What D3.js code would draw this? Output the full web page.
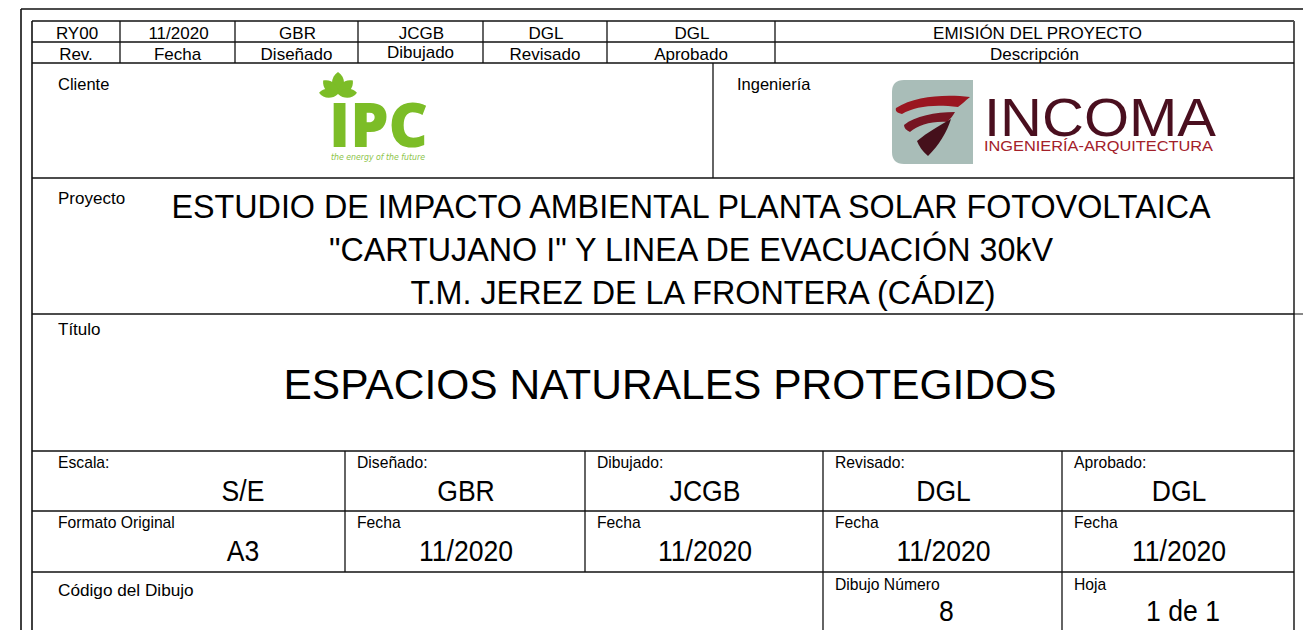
<!DOCTYPE html>
<html><head><meta charset="utf-8">
<script src="https://cdn.jsdelivr.net/npm/d3@7"></script>
<style>
body{margin:0;background:#fff}
svg{display:block}
text{font-family:"Liberation Sans",Arial,Helvetica,sans-serif;fill:#000}
</style>
</head><body>
<svg id="c" width="1303" height="630"></svg>
<script>
// ---------- DATA ----------
const revValues = ["RY00", "11/2020", "GBR", "JCGB", "DGL", "DGL", "EMISIÓN DEL PROYECTO"];
const revLabels = ["Rev.", "Fecha", "Diseñado", "Dibujado", "Revisado", "Aprobado", "Descripción"];
const clientLabel = "Cliente";
const engLabel = "Ingeniería";
const clientName = "IPC";
const clientSlogan = "the energy of the future";
const engName = "INCOMA";
const engSub = "INGENIERÍA-ARQUITECTURA";
const projectLabel = "Proyecto";
const projectLines = [
  "ESTUDIO DE IMPACTO AMBIENTAL PLANTA SOLAR FOTOVOLTAICA",
  "\"CARTUJANO I\" Y LINEA DE EVACUACIÓN 30kV",
  "T.M. JEREZ DE LA FRONTERA (CÁDIZ)"
];
const titleLabel = "Título";
const titleText = "ESPACIOS NATURALES PROTEGIDOS";
const row1Labels = ["Escala:", "Diseñado:", "Dibujado:", "Revisado:", "Aprobado:"];
const row1Values = ["S/E", "GBR", "JCGB", "DGL", "DGL"];
const row2Labels = ["Formato Original", "Fecha", "Fecha", "Fecha", "Fecha"];
const row2Values = ["A3", "11/2020", "11/2020", "11/2020", "11/2020"];
const row3Labels = ["Código del Dibujo", "Dibujo Número", "Hoja"];
const row3Values = ["", "8", "1 de 1"];

// ---------- LAYOUT ----------
const L = {
  outerX: 21, outerY: 9, left: 32, right: 1294, top: 21,
  revCols: [32, 120, 235, 358, 483, 607, 775, 1294],
  revRows: [21, 42, 63],
  clientBottom: 178, clientDiv: 713,
  projBottom: 314, titleBottom: 451,
  botRows: [451, 511, 572, 630],
  botCols: [32, 345, 585, 823, 1062, 1294]
};
const svg = d3.select("#c");
const ink = "#111";

// scales
const revX = d3.scaleOrdinal().domain(d3.range(L.revCols.length)).range(L.revCols);
const botX = d3.scaleOrdinal().domain(d3.range(L.botCols.length)).range(L.botCols);

const g = svg.append("g");
function line(x1, y1, x2, y2, w, c) {
  g.append("line").attr("x1", x1).attr("y1", y1).attr("x2", x2).attr("y2", y2)
    .attr("stroke", c || ink).attr("stroke-width", w || 1.3);
}
// outer frame
line(L.outerX, L.outerY, 1303, L.outerY, 1.6);
line(L.outerX, L.outerY, L.outerX, 630, 1.6);
// inner frame
line(L.left, L.top, L.right, L.top, 1.6);
line(L.left, L.top, L.left, 630, 1.6);
line(L.right, L.top, L.right, 630, 2, "#555");

// revision table
L.revRows.slice(1).forEach(y => line(L.left, y, L.right, y, 1.3));
d3.range(1, L.revCols.length - 1).forEach(i => line(revX(i), L.revRows[0], revX(i), L.revRows[2], 1.3));
const revCenters = d3.range(revValues.length).map(i => (revX(i) + revX(i + 1)) / 2);
g.selectAll("text.rv").data(revValues).join("text").attr("class", "rv")
  .attr("x", (d, i) => revCenters[i] + (i === 6 ? 3 : 1)).attr("y", 38.5).attr("text-anchor", "middle")
  .attr("font-size", 17).text(d => d);
g.selectAll("text.rl").data(revLabels).join("text").attr("class", "rl")
  .attr("x", (d, i) => revCenters[i]).attr("y", (d, i) => i === 3 ? 57.5 : 59.5).attr("text-anchor", "middle")
  .attr("font-size", 17).text(d => d);

// client / engineering
line(L.left, L.clientBottom, L.right, L.clientBottom, 1.5);
line(L.clientDiv, L.revRows[2], L.clientDiv, L.clientBottom, 1.3);
g.append("text").attr("x", 58).attr("y", 90).attr("font-size", 16.5).text(clientLabel);
g.append("text").attr("x", 737).attr("y", 90).attr("font-size", 16.5).text(engLabel);

// IPC logo
const green = "#7cbd27";
const ipc = g.append("g");
const leafC = [338, 94];
const leaves = [
  {a: -90, l: 22, w: 8},
  {a: -138, l: 20, w: 7},
  {a: -42, l: 20, w: 7},
  {a: -176, l: 19, w: 6},
  {a: -4, l: 19, w: 6}
];
leaves.forEach(lf => {
  const l = lf.l, w = lf.w;
  ipc.append("path")
    .attr("d", `M0,0 C${l*0.3},${-w} ${l*0.75},${-w} ${l},0 C${l*0.75},${w} ${l*0.3},${w} 0,0 Z`)
    .attr("transform", `translate(${leafC[0]},${leafC[1]}) rotate(${lf.a})`)
    .attr("fill", green);
});
const ipcText = ipc.append("text").style("font-family", "'Open Sans','Liberation Sans',Arial,sans-serif");
ipcText.append("tspan").attr("x", 329).attr("y", 147).attr("font-size", 62)
  .attr("font-weight", 800).attr("textLength", 99).attr("lengthAdjust", "spacingAndGlyphs")
  .style("fill", green).text(clientName);
ipcText.append("tspan").attr("x", 331).attr("y", 160).attr("font-size", 9)
  .attr("textLength", 94).attr("lengthAdjust", "spacingAndGlyphs")
  .style("font-family", "'DejaVu Sans',sans-serif").style("font-style", "italic")
  .style("fill", "#8cc44a").text(clientSlogan);

// INCOMA logo
const inc = g.append("g");
inc.append("path").attr("d", "M904,80 H973 V164 H904 Q892,164 892,152 V92 Q892,80 904,80 Z").attr("fill", "#a9bdb8");
inc.append("path").attr("d", "M896,108 C915,96 945,94 970,97 C965,101 962,104 958,107 C935,104 915,106 902,114 C897,113 895,111 896,108 Z").attr("fill", "#9a1620");
inc.append("path").attr("d", "M904,125 C915,116 935,112 955,112 C953,116 950,119 947,122 C932,121 918,125 910,132 C906,130 904,128 904,125 Z").attr("fill", "#761522");
inc.append("path").attr("d", "M917,141 C928,132 940,125 951,119 C947,132 939,145 928,156 C922,151 919,146 917,141 Z").attr("fill", "#45101b");
const incText = inc.append("text");
incText.append("tspan").attr("x", 984).attr("y", 136).attr("font-size", 54)
  .attr("textLength", 232).attr("lengthAdjust", "spacingAndGlyphs")
  .style("font-family", "'Liberation Sans Narrow','Liberation Sans',sans-serif").style("font-weight", 400)
  .style("fill", "#4a0f1f").text(engName);
incText.append("tspan").attr("x", 984).attr("y", 151).attr("font-size", 14.5)
  .attr("textLength", 229).attr("lengthAdjust", "spacingAndGlyphs")
  .style("font-family", "'Liberation Sans Narrow','Liberation Sans',sans-serif")
  .style("fill", "#a3202a").text(engSub);

// project
line(L.left, L.projBottom, L.right, L.projBottom, 1.5);
line(L.right, L.projBottom, 1303, L.projBottom, 1);
g.append("text").attr("x", 58).attr("y", 204).attr("font-size", 17).text(projectLabel);
g.selectAll("text.pl").data(projectLines).join("text").attr("class", "pl")
  .attr("x", (d, i) => i === 2 ? 703 : 691).attr("y", (d, i) => 218 + i * 43)
  .attr("text-anchor", "middle").attr("font-size", 32.3).text(d => d);

// title
line(L.left, L.titleBottom, L.right, L.titleBottom, 1.5);
g.append("text").attr("x", 58).attr("y", 335).attr("font-size", 17).text(titleLabel);
g.append("text").attr("x", 670).attr("y", 399).attr("text-anchor", "middle")
  .attr("font-size", 42.5).text(titleText);

// bottom rows
L.botRows.slice(1, 3).forEach(y => line(L.left, y, L.right, y, 1.5));
d3.range(1, L.botCols.length - 1).forEach(i => line(botX(i), L.botRows[0], botX(i), L.botRows[2], 1.3));
[3, 4].forEach(i => line(botX(i), L.botRows[2], botX(i), 630, 1.3));

function valueText(x, y, txt) {
  g.append("text").attr("transform", `translate(${x},${y}) scale(0.9,1)`)
    .attr("text-anchor", "middle").attr("font-size", 29.5).text(txt);
}
const botCenters = d3.range(5).map(i => (botX(i) + botX(i + 1)) / 2);
const valX = (i) => i === 0 ? 243 : botCenters[i] + 1;
row1Labels.forEach((d, i) => g.append("text").attr("x", botX(i) + (i === 0 ? 26 : 12)).attr("y", 468).attr("font-size", 15.7).text(d));
row1Values.forEach((d, i) => valueText(valX(i), 501, d));
row2Labels.forEach((d, i) => g.append("text").attr("x", botX(i) + (i === 0 ? 26 : 12)).attr("y", 528).attr("font-size", 15.7).text(d));
row2Values.forEach((d, i) => valueText(valX(i), 561, d));
g.append("text").attr("x", 58).attr("y", 596).attr("font-size", 17.2).text(row3Labels[0]);
g.append("text").attr("x", botX(3) + 12).attr("y", 590).attr("font-size", 15.7).text(row3Labels[1]);
g.append("text").attr("x", botX(4) + 12).attr("y", 590).attr("font-size", 15.7).text(row3Labels[2]);
valueText(botCenters[3] + 4, 621, row3Values[1]);
valueText(botCenters[4] + 5, 621, row3Values[2]);
</script>
</body></html>
